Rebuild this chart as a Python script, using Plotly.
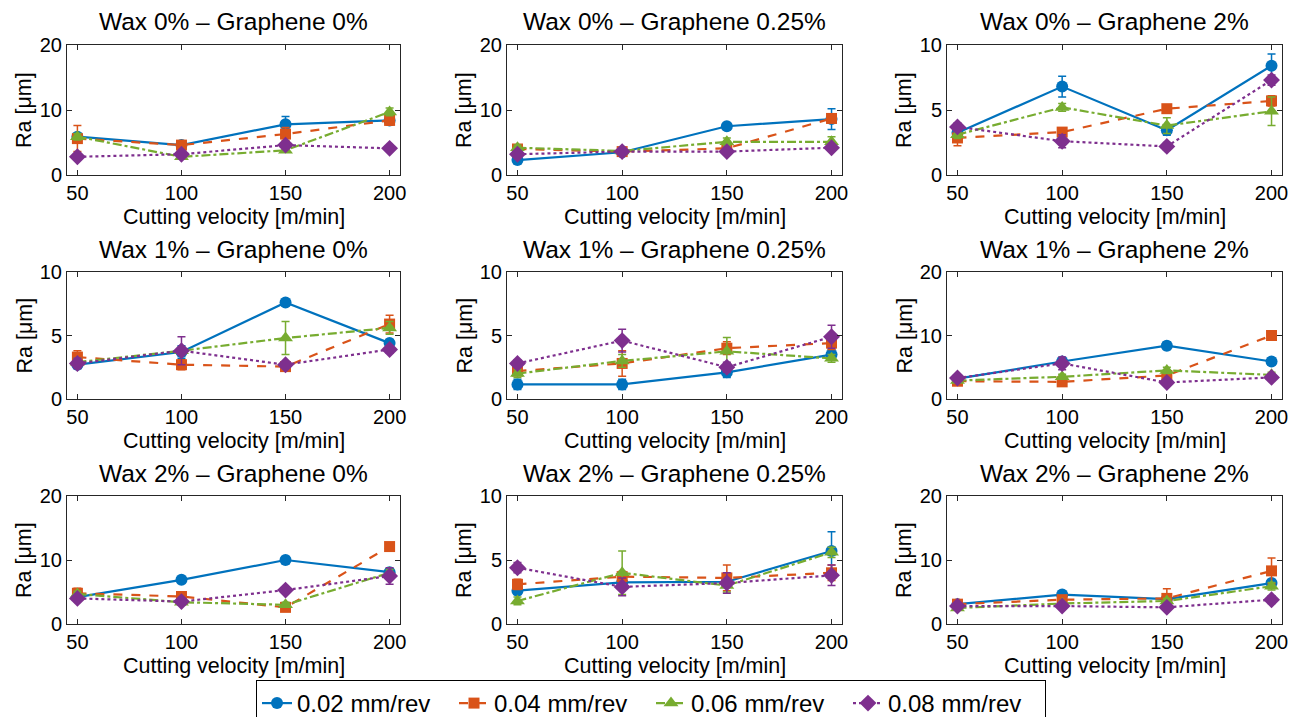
import plotly.graph_objects as go

VELOCITY = [50, 100, 150, 200]
TITLES = ["Wax 0% – Graphene 0%", "Wax 0% – Graphene 0.25%", "Wax 0% – Graphene 2%",
          "Wax 1% – Graphene 0%", "Wax 1% – Graphene 0.25%", "Wax 1% – Graphene 2%",
          "Wax 2% – Graphene 0%", "Wax 2% – Graphene 0.25%", "Wax 2% – Graphene 2%"]
YMAX = [20, 20, 10, 10, 10, 20, 20, 10, 20]
YTICKS_20 = [0, 10, 20]
YTICKS_10 = [0, 5, 10]
SERIES_NAMES = ["0.02 mm/rev", "0.04 mm/rev", "0.06 mm/rev", "0.08 mm/rev"]

# Ra values per subplot (row-major), feed 0.02 / 0.04 / 0.06 / 0.08 mm/rev
RA_002 = [[5.9, 4.6, 7.8, 8.4], [2.3, 3.5, 7.5, 8.6], [3.25, 6.8, 3.45, 8.4],
          [2.7, 3.7, 7.6, 4.4], [1.15, 1.15, 2.1, 3.5], [3.2, 5.9, 8.4, 5.9],
          [4.2, 6.9, 10.0, 8.1], [2.6, 3.25, 3.3, 5.7], [3.1, 4.6, 3.9, 6.4]]
RA_004 = [[5.6, 4.6, 6.3, 8.4], [4.0, 3.6, 4.1, 8.7], [2.85, 3.3, 5.1, 5.7],
          [3.3, 2.7, 2.55, 5.9], [2.2, 2.8, 4.0, 4.4], [2.8, 2.7, 3.7, 10.0],
          [4.8, 4.3, 2.6, 12.1], [3.1, 3.7, 3.6, 4.0], [3.1, 3.8, 4.0, 8.3]]
RA_006 = [[5.9, 2.8, 3.8, 9.7], [4.2, 3.7, 5.1, 5.1], [3.1, 5.2, 3.8, 4.9],
          [2.9, 3.8, 4.8, 5.6], [2.0, 3.0, 3.75, 3.2], [2.9, 3.5, 4.5, 3.8],
          [4.7, 3.4, 3.0, 8.0], [1.8, 4.0, 3.0, 5.6], [2.5, 3.2, 3.6, 5.9]]
RA_008 = [[2.8, 3.2, 4.6, 4.1], [3.2, 3.6, 3.6, 4.2], [3.7, 2.6, 2.2, 7.3],
          [2.8, 3.8, 2.7, 3.9], [2.8, 4.6, 2.5, 4.9], [3.3, 5.6, 2.6, 3.4],
          [4.0, 3.5, 5.3, 7.5], [4.4, 2.9, 3.2, 3.8], [2.8, 2.8, 2.6, 3.8]]

ERR_002 = [[0.4, 0.3, 1.2, 0.4], [0.4, 0.3, 0.4, 1.6], [0.3, 0.8, 0.4, 0.9],
           [0.3, 0.5, 0.2, 0.3], [0.4, 0.4, 0.4, 0.4], [0.4, 0.6, 0.6, 0.5],
           [0.4, 0.4, 0.4, 0.5], [0.3, 0.3, 0.3, 1.5], [0.3, 0.4, 0.3, 0.5]]
ERR_004 = [[2.0, 0.4, 1.0, 0.7], [0.5, 0.3, 0.4, 0.5], [0.6, 0.3, 0.2, 0.4],
           [0.5, 0.4, 0.2, 0.7], [0.3, 1.0, 0.5, 0.5], [0.4, 0.4, 0.4, 0.4],
           [0.8, 0.5, 0.4, 0.5], [0.4, 0.4, 1.0, 0.6], [0.3, 0.4, 1.5, 2.0]]
ERR_006 = [[0.5, 0.3, 0.3, 0.6], [0.4, 0.3, 0.6, 0.8], [0.3, 0.3, 0.6, 1.1],
           [0.3, 0.3, 1.3, 0.5], [0.3, 0.5, 1.1, 0.3], [0.4, 0.4, 0.5, 0.4],
           [0.4, 0.4, 0.4, 0.5], [0.3, 1.7, 0.5, 0.4], [0.3, 0.3, 0.4, 0.6]]
ERR_008 = [[0.3, 0.3, 0.4, 0.3], [0.4, 0.3, 0.3, 0.4], [0.3, 0.5, 0.3, 0.4],
           [0.4, 1.1, 0.2, 0.3], [0.3, 0.9, 0.4, 0.9], [0.4, 1.0, 0.4, 0.4],
           [0.4, 0.5, 0.4, 1.3], [0.4, 0.7, 0.8, 0.8], [0.3, 0.3, 0.3, 0.6]]

RA = [RA_002, RA_004, RA_006, RA_008]
ERR = [ERR_002, ERR_004, ERR_006, ERR_008]

COLORS = ["#0072BD", "#D95319", "#77AC30", "#7E2F8E"]
DASHES = ["solid", "dash", "dashdot", "dot"]
SYMBOLS = ["circle", "square", "triangle-up", "diamond"]
MSIZES = [12, 11, 13, 13]

W, H = 1299, 717
COL_PX = [(67, 400), (507, 842), (947, 1282)]
ROW_PX = [(45, 175), (272, 399), (496, 624)]
FONT = "Liberation Sans, Arial, sans-serif"

fig = go.Figure()
layout = {}
annotations = []
for i in range(9):
    r, c = divmod(i, 3)
    idx = "" if i == 0 else str(i + 1)
    x0, x1 = COL_PX[c]
    y0, y1 = ROW_PX[r]
    dom_x = [x0 / W, x1 / W]
    dom_y = [1 - y1 / H, 1 - y0 / H]
    for s in range(4):
        fig.add_trace(go.Scatter(
            x=VELOCITY, y=RA[s][i],
            error_y=dict(type="data", array=ERR[s][i], color=COLORS[s], thickness=1.5, width=4),
            mode="lines+markers", name=SERIES_NAMES[s], showlegend=(i == 0),
            line=dict(color=COLORS[s], width=2.2, dash=DASHES[s]),
            marker=dict(symbol=SYMBOLS[s], size=MSIZES[s], color=COLORS[s]),
            xaxis="x" + idx, yaxis="y" + idx, cliponaxis=True))
    axis_common = dict(showline=True, linecolor="#262626", linewidth=1, mirror="ticks",
                       ticks="inside", ticklen=5, tickcolor="#262626",
                       showgrid=False, zeroline=False,
                       tickfont=dict(family=FONT, size=20, color="#000000"))
    layout["xaxis" + idx] = dict(domain=dom_x, range=[45, 205], tickvals=VELOCITY,
                                 anchor="y" + idx, **axis_common)
    ym = YMAX[i]
    layout["yaxis" + idx] = dict(domain=dom_y, range=[0, ym],
                                 tickvals=YTICKS_20 if ym == 20 else YTICKS_10,
                                 anchor="x" + idx, **axis_common)
    xc = (x0 + x1) / 2 / W
    annotations.append(dict(text=TITLES[i], x=xc, y=1 - (y0 - 23) / H, xref="paper", yref="paper",
                            showarrow=False, xanchor="center", yanchor="middle",
                            font=dict(family=FONT, size=24.5, color="#000000")))
    annotations.append(dict(text="Cutting velocity [m/min]", x=xc, y=1 - (y1 + 42) / H,
                            xref="paper", yref="paper", showarrow=False,
                            xanchor="center", yanchor="middle",
                            font=dict(family=FONT, size=21.5, color="#000000")))
    annotations.append(dict(text="Ra [μm]", x=(x0 - 43) / W, y=1 - (y0 + y1) / 2 / H,
                            xref="paper", yref="paper", showarrow=False, textangle=-90,
                            xanchor="center", yanchor="middle",
                            font=dict(family=FONT, size=21.5, color="#000000")))

fig.update_layout(
    width=W, height=H, margin=dict(l=0, r=0, t=0, b=0, autoexpand=False),
    paper_bgcolor="white", plot_bgcolor="white",
    annotations=annotations,
    legend=dict(orientation="h", x=256 / W, xanchor="left", y=1 - 680 / H, yanchor="top",
                xref="container", yref="container",
                bordercolor="#000000", borderwidth=1, bgcolor="white",
                font=dict(family=FONT, size=24, color="#000000"), tracegroupgap=0,
                entrywidthmode="pixels", entrywidth=152),
    **layout)

fig.write_html("out.html")
